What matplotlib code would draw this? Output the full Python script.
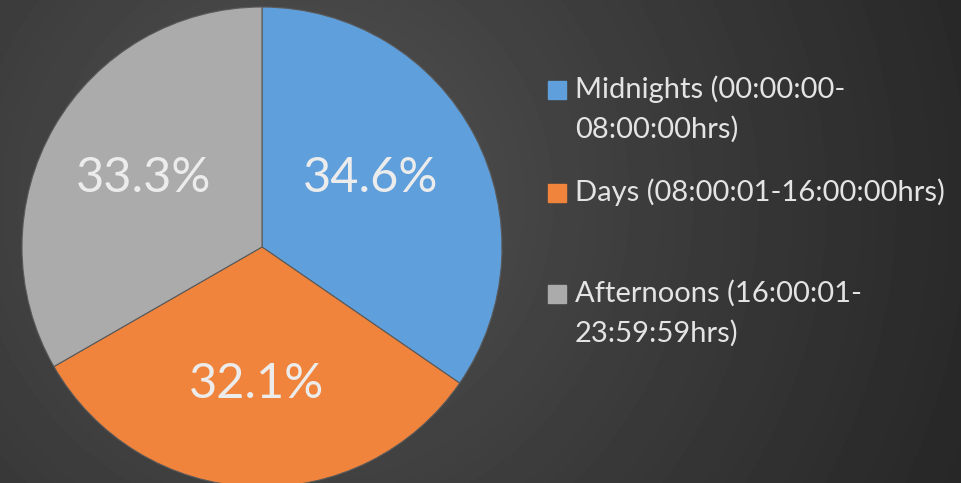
import numpy as np
import matplotlib.pyplot as plt

# dados
shares = [34.6, 32.1, 33.3]
labels = ['Midnights (00:00:00-\n08:00:00hrs)',
          'Days (08:00:01-16:00:00hrs)',
          'Afternoons (16:00:01-\n23:59:59hrs)']
colors = ['#5f9fdc', '#f0843c', '#ababab']

plt.rcParams['font.family'] = ['Lato', 'DejaVu Sans']

fig = plt.figure(figsize=(9.61, 4.83), dpi=100)

# fundo com gradiente radial escuro
bg = fig.add_axes([0, 0, 1, 1])
yy, xx = np.mgrid[0:483, 0:961]
d = np.hypot(xx - 300, yy - 200) / 700
shade = (0x58 - 0x30 * np.clip(d, 0, 1.2) ** 0.8) / 255
bg.imshow(shade, cmap='gray', vmin=0, vmax=1, aspect='auto', extent=[0, 1, 0, 1])
bg.axis('off')

# pizza
ax = fig.add_axes([22 / 961, -4 / 483, 480 / 961, 480 / 483])
wedges, texts, autotexts = ax.pie(shares, colors=colors, startangle=90, counterclock=False,
                                  autopct='%.1f%%', pctdistance=0.57,
                                  wedgeprops=dict(edgecolor='#5a5a5a', linewidth=0.8),
                                  textprops=dict(color='#ececec', fontsize=35))
# rótulo azul um pouco mais para dentro, como no Excel
x0, y0 = autotexts[0].get_position()
autotexts[0].set_position((x0 * 0.9, y0 * 1.08))
ax.set_xlim(-1, 1)
ax.set_ylim(-1, 1)
ax.axis('off')

# legenda manual
rows = [98, 201, 302]
for lab, col, y in zip(labels, colors, rows):
    fig.patches.append(plt.Rectangle((548 / 961, 1 - (y + 1) / 483), 18 / 961, 18 / 483,
                                     transform=fig.transFigure, color=col, figure=fig))
    for i, line in enumerate(lab.split('\n')):
        fig.text(575 / 961, 1 - (y + 40 * i) / 483, line, color='#e4e4e4',
                 fontsize=21, va='baseline', ha='left')

plt.savefig('out.png', dpi=100)
